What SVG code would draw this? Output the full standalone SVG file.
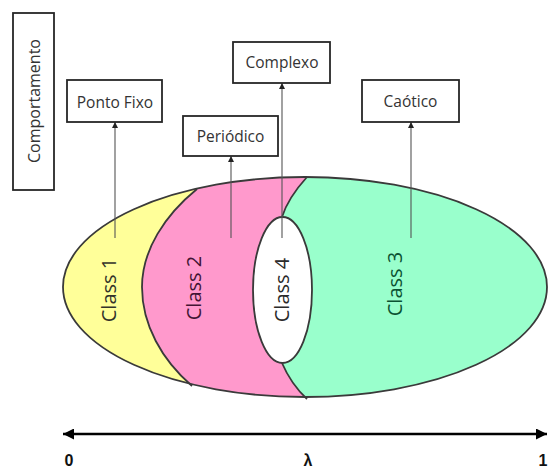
<svg xmlns="http://www.w3.org/2000/svg" width="550" height="470" viewBox="0 0 550 470">
<style>
.box{fill:#fff;stroke:#262626;stroke-width:1.8}
.lbl{font-family:"Open Sans","Noto Sans",sans-serif;font-size:15.5px;fill:#333;text-anchor:middle}
.cls{font-family:"Open Sans","Noto Sans",sans-serif;font-size:20px;text-anchor:middle}
.edge{stroke:#3a3a3a;stroke-width:1.8;fill:none}
.con{stroke:#555;stroke-width:1.1;fill:none}
.ax{font-family:"Liberation Sans",Arial,sans-serif;font-weight:bold;font-size:16px;fill:#111;text-anchor:middle}
</style>
<defs>
<marker id="tip" viewBox="0 0 10 10" refX="10" refY="5" markerWidth="6" markerHeight="6" markerUnits="userSpaceOnUse" orient="auto"><path d="M0,0 L10,5 L0,10 Z" fill="#222"/></marker>
<marker id="axh" viewBox="0 0 10 10" refX="10" refY="5" markerWidth="12" markerHeight="11" markerUnits="userSpaceOnUse" orient="auto-start-reverse"><path d="M0,0 L10,5 L0,10 Z" fill="#000"/></marker>
<clipPath id="big"><ellipse cx="305" cy="287" rx="242" ry="110"/></clipPath>
</defs>

<g id="regions">
<ellipse cx="305" cy="287" rx="242" ry="110" fill="#FF99CC"/>
<g clip-path="url(#big)">
<path d="M197,120 L197,189 C165,215 142,250 142,287 C142,325 162,360 192,386 L192,450 L0,450 L0,120 Z" fill="#FFFF99"/>
<path d="M307,120 L307,177 Q288,198 282,217 L282,363 Q291,384 307,399 L307,450 L560,450 L560,120 Z" fill="#99FFCC"/>
</g>
<path class="edge" d="M197,189 C165,215 142,250 142,287 C142,325 162,360 192,386"/>
<path class="edge" d="M307,177 Q288,198 282,217"/>
<path class="edge" d="M282,363 Q291,384 307,399"/>
<ellipse class="edge" cx="305" cy="287" rx="242" ry="110"/>
</g>

<g id="class4">
<ellipse cx="282.5" cy="290" rx="29.5" ry="73" fill="#fff" stroke="#3a3a3a" stroke-width="1.8"/>
</g>

<g id="connectors">
<line class="con" x1="115" y1="238" x2="115" y2="122" marker-end="url(#tip)"/>
<line class="con" x1="231" y1="238" x2="231" y2="156" marker-end="url(#tip)"/>
<line class="con" x1="282" y1="238" x2="282" y2="83" marker-end="url(#tip)"/>
<line class="con" x1="411" y1="238" x2="411" y2="122" marker-end="url(#tip)"/>
</g>

<g id="labels-classes">
<text class="cls" fill="#33332a" x="109" y="297" transform="rotate(-90 109 290)">Class 1</text>
<text class="cls" fill="#421434" x="194" y="295" transform="rotate(-90 194 288)">Class 2</text>
<text class="cls" fill="#2a2a2a" x="282" y="297" transform="rotate(-90 282 290)">Class 4</text>
<text class="cls" fill="#0b5232" x="395" y="291" transform="rotate(-90 395 284)">Class 3</text>
</g>

<g id="comportamento">
<rect class="box" x="13" y="13" width="41" height="177"/>
<text class="lbl" style="font-size:16px" x="34" y="107" transform="rotate(-90 34 101)">Comportamento</text>
</g>
<g id="ponto-fixo">
<rect class="box" x="67" y="80" width="95" height="42"/>
<text class="lbl" x="115" y="108">Ponto Fixo</text>
</g>
<g id="periodico">
<rect class="box" x="183" y="116" width="95" height="40"/>
<text class="lbl" x="230.5" y="142">Periódico</text>
</g>
<g id="complexo">
<rect class="box" x="233" y="42" width="97" height="41"/>
<text class="lbl" x="282" y="68">Complexo</text>
</g>
<g id="caotico">
<rect class="box" x="362" y="80" width="97" height="42"/>
<text class="lbl" x="410.5" y="107">Caótico</text>
</g>

<g id="axis">
<line x1="63" y1="434" x2="547" y2="434" stroke="#000" stroke-width="2.6" marker-start="url(#axh)" marker-end="url(#axh)"/>
<text class="ax" x="69" y="466">0</text>
<text class="ax" x="308" y="466">λ</text>
<text class="ax" x="543" y="466">1</text>
</g>
</svg>
